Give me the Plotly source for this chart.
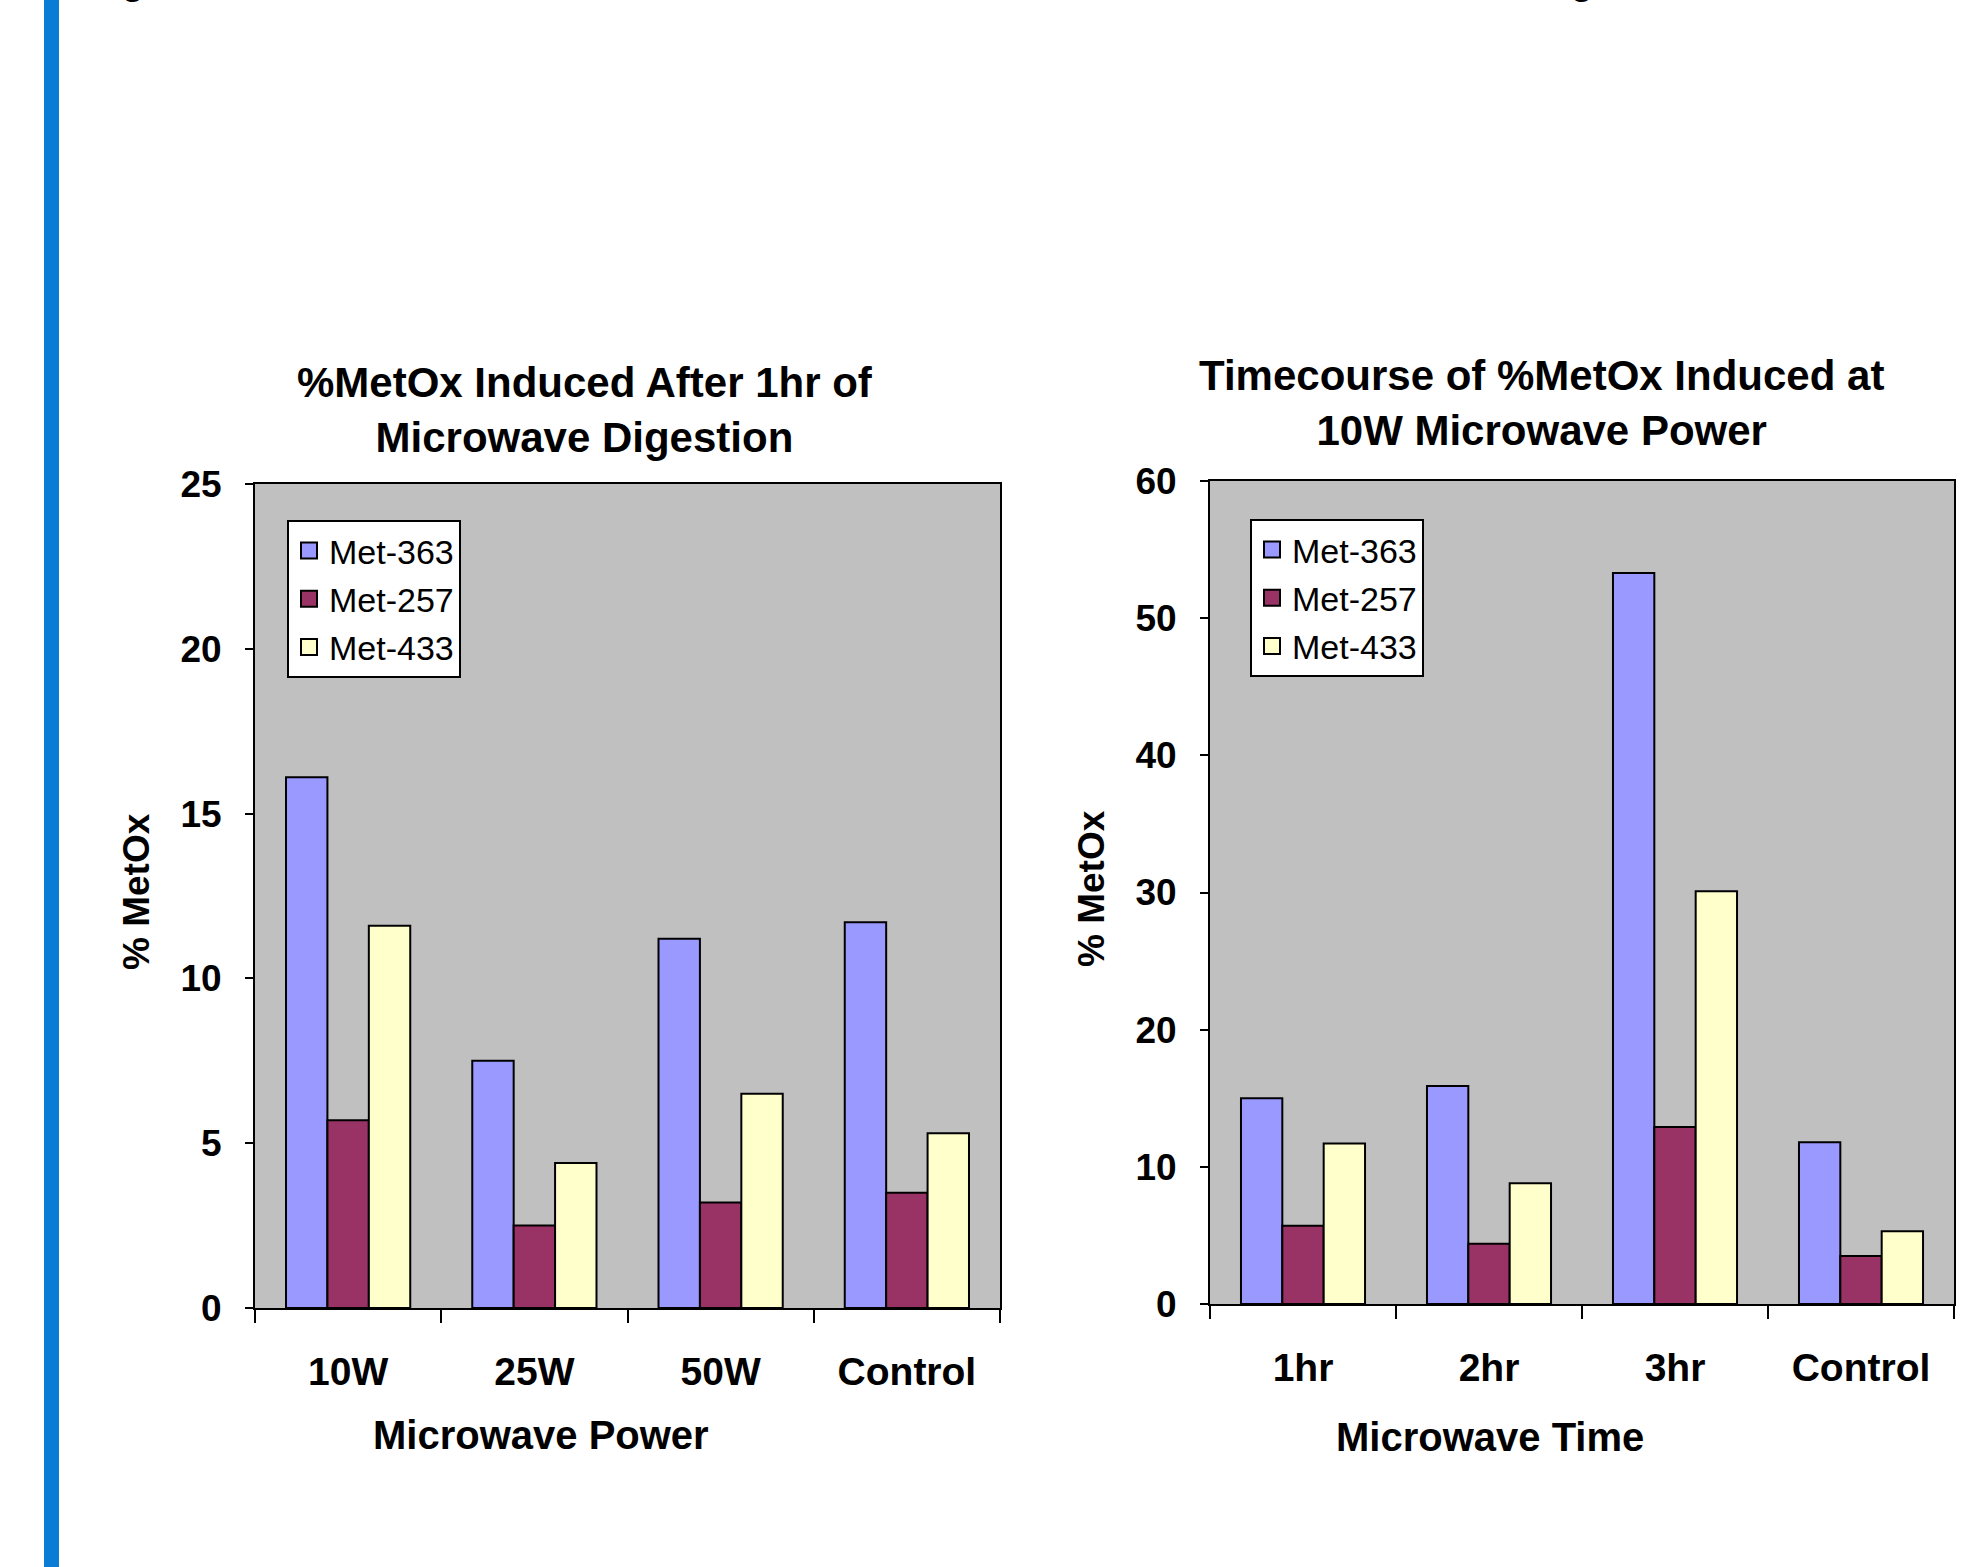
import plotly.graph_objects as go

# ---- data ----
power_categories = ["10W", "25W", "50W", "Control"]
power_met363 = [16.1, 7.5, 11.2, 11.7]
power_met257 = [5.7, 2.5, 3.2, 3.5]
power_met433 = [11.6, 4.4, 6.5, 5.3]

time_categories = ["1hr", "2hr", "3hr", "Control"]
time_met363 = [15.0, 15.9, 53.3, 11.8]
time_met257 = [5.7, 4.4, 12.9, 3.5]
time_met433 = [11.7, 8.8, 30.1, 5.3]

series_names = ["Met-363", "Met-257", "Met-433"]
series_colors = ["#9999FF", "#993366", "#FFFFCC"]

FONT = "Liberation Sans, Arial, sans-serif"
W, H = 1968, 1567

fig = go.Figure()

def add_chart(cats, series, xa, ya, leg, tag):
    for name, color, vals in zip(series_names, series_colors, series):
        fig.add_trace(go.Bar(
            x=cats, y=vals, name=name, showlegend=False,
            marker=dict(color=color, line=dict(color="black", width=2)),
            xaxis=xa, yaxis=ya,
        ))
    # legend entries (square swatches)
    for name, color in zip(series_names, series_colors):
        fig.add_trace(go.Scatter(
            x=[None], y=[None], mode="markers", name=name, legend=leg,
            legendgroup=tag + name,
            marker=dict(symbol="square", size=16, color=color,
                        line=dict(color="black", width=2)),
            xaxis=xa, yaxis=ya,
        ))

add_chart(power_categories, [power_met363, power_met257, power_met433], "x", "y", "legend", "L")
add_chart(time_categories, [time_met363, time_met257, time_met433], "x2", "y2", "legend2", "R")

def px(x):
    return x / W

def py(y):
    return 1 - y / H

xaxis_common = dict(
    type="category",
    showline=True, linecolor="black", linewidth=2, mirror=True,
    ticks="outside", tickson="boundaries", ticklen=13, tickwidth=2, tickcolor="black",
    showgrid=False, zeroline=False,
    tickfont=dict(family=FONT, size=39, color="black", weight="bold"),
    ticklabelstandoff=28,
)
yaxis_common = dict(
    showline=True, linecolor="black", linewidth=2, mirror=True,
    ticks="outside", ticklen=8, tickwidth=2, tickcolor="black",
    showgrid=False, zeroline=False,
    tickfont=dict(family=FONT, size=37, color="black", weight="bold"),
    ticklabelstandoff=16,
)

legend_common = dict(
    bgcolor="white", bordercolor="black", borderwidth=2,
    font=dict(family=FONT, size=34, color="black"),
    xanchor="left", yanchor="top", tracegroupgap=1,
    itemsizing="trace",
    itemclick=False, itemdoubleclick=False,
)

fig.update_layout(
    width=W, height=H,
    margin=dict(l=0, r=0, t=0, b=0, autoexpand=False),
    paper_bgcolor="white", plot_bgcolor="#C0C0C0",
    barmode="group", bargap=0.333, bargroupgap=0,
    xaxis=dict(domain=[px(255), px(1000)], anchor="y", **xaxis_common),
    yaxis=dict(domain=[py(1308), py(484)], anchor="x", range=[0, 25], dtick=5, **yaxis_common),
    xaxis2=dict(domain=[px(1210), px(1954)], anchor="y2", **xaxis_common),
    yaxis2=dict(domain=[py(1304), py(481)], anchor="x2", range=[0, 60], dtick=10, **yaxis_common),
    legend=dict(x=px(287), y=py(520), **legend_common),
    legend2=dict(x=px(1250), y=py(519), **legend_common),
    showlegend=True,
)

annos = [
    dict(text="%MetOx Induced After 1hr of<br>Microwave Digestion", x=px(585), y=py(410),
         font=dict(family=FONT, size=42, color="black", weight="bold")),
    dict(text="Timecourse of %MetOx Induced at<br>10W Microwave Power", x=px(1541), y=py(403),
         font=dict(family=FONT, size=42, color="black", weight="bold")),
    dict(text="Microwave Power", x=px(541), y=py(1435),
         font=dict(family=FONT, size=40, color="black", weight="bold")),
    dict(text="Microwave Time", x=px(1490), y=py(1437),
         font=dict(family=FONT, size=40, color="black", weight="bold")),
    dict(text="% MetOx", x=px(136), y=py(892), textangle=-90,
         font=dict(family=FONT, size=37, color="black", weight="bold")),
    dict(text="% MetOx", x=px(1091), y=py(889), textangle=-90,
         font=dict(family=FONT, size=37, color="black", weight="bold")),
]
for a in annos:
    fig.add_annotation(xref="paper", yref="paper", showarrow=False,
                       xanchor="center", yanchor="middle", **a)

# descenders of the cut-off heading text at the very top of the page
for cx in [133, 1582]:
    fig.add_annotation(xref="paper", yref="paper", showarrow=False,
                       text="g", x=px(cx), y=py(4), xanchor="center", yanchor="bottom",
                       font=dict(family=FONT, size=36, color="black", weight="bold"))

# blue vertical accent bar at the left edge
fig.add_shape(type="rect", xref="paper", yref="paper",
              x0=px(44), x1=px(59), y0=0, y1=1,
              fillcolor="#0A7CD6", line=dict(width=0), layer="above")

fig.write_html("out.html")
